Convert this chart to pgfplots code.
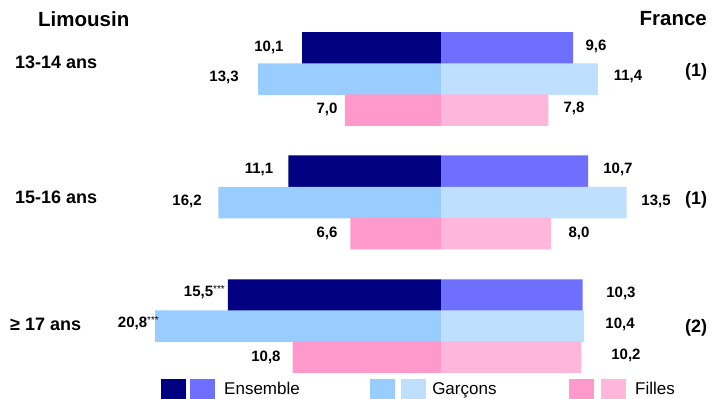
\documentclass[border=0pt]{standalone}
\usepackage{fontspec}
\setmainfont{Liberation Sans}
\usepackage{pgfplots}
\pgfplotsset{compat=1.18}
\definecolor{limEns}{HTML}{000080}
\definecolor{frEns}{HTML}{6F6FFF}
\definecolor{limGar}{HTML}{99CCFF}
\definecolor{frGar}{HTML}{BFDFFF}
\definecolor{limFil}{HTML}{FF99CC}
\definecolor{frFil}{HTML}{FFB6DB}
\newcommand\valfont{\fontsize{15bp}{18bp}\selectfont\bfseries}
\newcommand\catfont{\fontsize{18bp}{21bp}\selectfont\bfseries}
\newcommand\headfont{\fontsize{20.5bp}{24bp}\selectfont\bfseries}
\newcommand\legfont{\fontsize{17bp}{20bp}\selectfont}
\newcommand\stars{\raisebox{4.5bp}{\fontsize{10bp}{10bp}\selectfont\mdseries ***}}
\begin{document}
\begin{tikzpicture}
\begin{axis}[at={(0,0)},anchor=south west,
  width=720bp,height=399bp,scale only axis,hide axis,clip=false,
  xmin=-32.073,xmax=20.291,ymin=0,ymax=399,y dir=reverse,
  xbar,bar width=31.5,bar shift=0pt]
% Limousin (left, negative)
\addplot[fill=limEns,draw=none] coordinates {(-10.1,48) (-11.1,171) (-15.5,295)};
\addplot[fill=limGar,draw=none] coordinates {(-13.3,79) (-16.2,202.5) (-20.8,326)};
\addplot[fill=limFil,draw=none] coordinates {(-7.0,110) (-6.6,233.5) (-10.8,357)};
% France (right, positive)
\addplot[fill=frEns,draw=none] coordinates {(9.6,48) (10.7,171) (10.3,295)};
\addplot[fill=frGar,draw=none] coordinates {(11.4,79) (13.5,202.5) (10.4,326)};
\addplot[fill=frFil,draw=none] coordinates {(7.8,110) (8.0,233.5) (10.2,357)};
% value labels
\node[font=\valfont] at (axis cs:-12.51,47) {10,1};
\node[font=\valfont] at (axis cs:-15.78,77) {13,3};
\node[font=\valfont] at (axis cs:-8.29,109) {7,0};
\node[font=\valfont] at (axis cs:11.27,46) {9,6};
\node[font=\valfont] at (axis cs:13.6,77) {11,4};
\node[font=\valfont] at (axis cs:9.67,108) {7,8};
\node[font=\valfont] at (axis cs:-13.24,169) {11,1};
\node[font=\valfont] at (axis cs:-18.47,201) {16,2};
\node[font=\valfont] at (axis cs:-8.29,233) {6,6};
\node[font=\valfont] at (axis cs:12.87,169) {10,7};
\node[font=\valfont] at (axis cs:15.64,201) {13,5};
\node[font=\valfont] at (axis cs:10.04,233) {8,0};
\node[font=\valfont,anchor=east,inner sep=0pt] at (axis cs:-15.71,292) {15,5\stars};
\node[font=\valfont,anchor=east,inner sep=0pt] at (axis cs:-20.51,323) {20,8\stars};
\node[font=\valfont] at (axis cs:-12.73,357) {10,8};
\node[font=\valfont] at (axis cs:13.09,293) {10,3};
\node[font=\valfont] at (axis cs:13.02,324) {10,4};
\node[font=\valfont] at (axis cs:13.45,355) {10,2};
% category labels
\node[font=\catfont,anchor=west,inner sep=0pt] at (axis cs:-30.98,62) {13-14 ans};
\node[font=\catfont,anchor=west,inner sep=0pt] at (axis cs:-30.98,197) {15-16 ans};
\node[font=\catfont,anchor=west,inner sep=0pt] at (axis cs:-31.35,324) {≥ 17 ans};
\node[font=\catfont] at (axis cs:18.55,72) {(1)};
\node[font=\catfont] at (axis cs:18.55,200) {(1)};
\node[font=\catfont] at (axis cs:18.55,328) {(2)};
% headers
\node[font=\headfont,anchor=west,inner sep=0pt] at (axis cs:-29.31,19) {Limousin};
\node[font=\headfont,anchor=east,inner sep=0pt] at (axis cs:19.35,19) {France};
% legend
\fill[limEns] (axis cs:-20.36,379) rectangle (axis cs:-18.55,399);
\fill[frEns] (axis cs:-18.25,379) rectangle (axis cs:-16.44,399);
\node[font=\legfont,anchor=base west,inner sep=0pt] at (axis cs:-15.78,394) {Ensemble};
\fill[limGar] (axis cs:-5.16,379) rectangle (axis cs:-3.35,399);
\fill[frGar] (axis cs:-2.91,379) rectangle (axis cs:-1.09,399);
\node[font=\legfont,anchor=base west,inner sep=0pt] at (axis cs:-0.65,394) {Garçons};
\fill[limFil] (axis cs:9.31,379) rectangle (axis cs:11.13,399);
\fill[frFil] (axis cs:11.64,379) rectangle (axis cs:13.45,399);
\node[font=\legfont,anchor=base west,inner sep=0pt] at (axis cs:14.11,394) {Filles};
\end{axis}
\pgfresetboundingbox
\useasboundingbox (0,0) rectangle (720bp,399bp);
\end{tikzpicture}
\end{document}
